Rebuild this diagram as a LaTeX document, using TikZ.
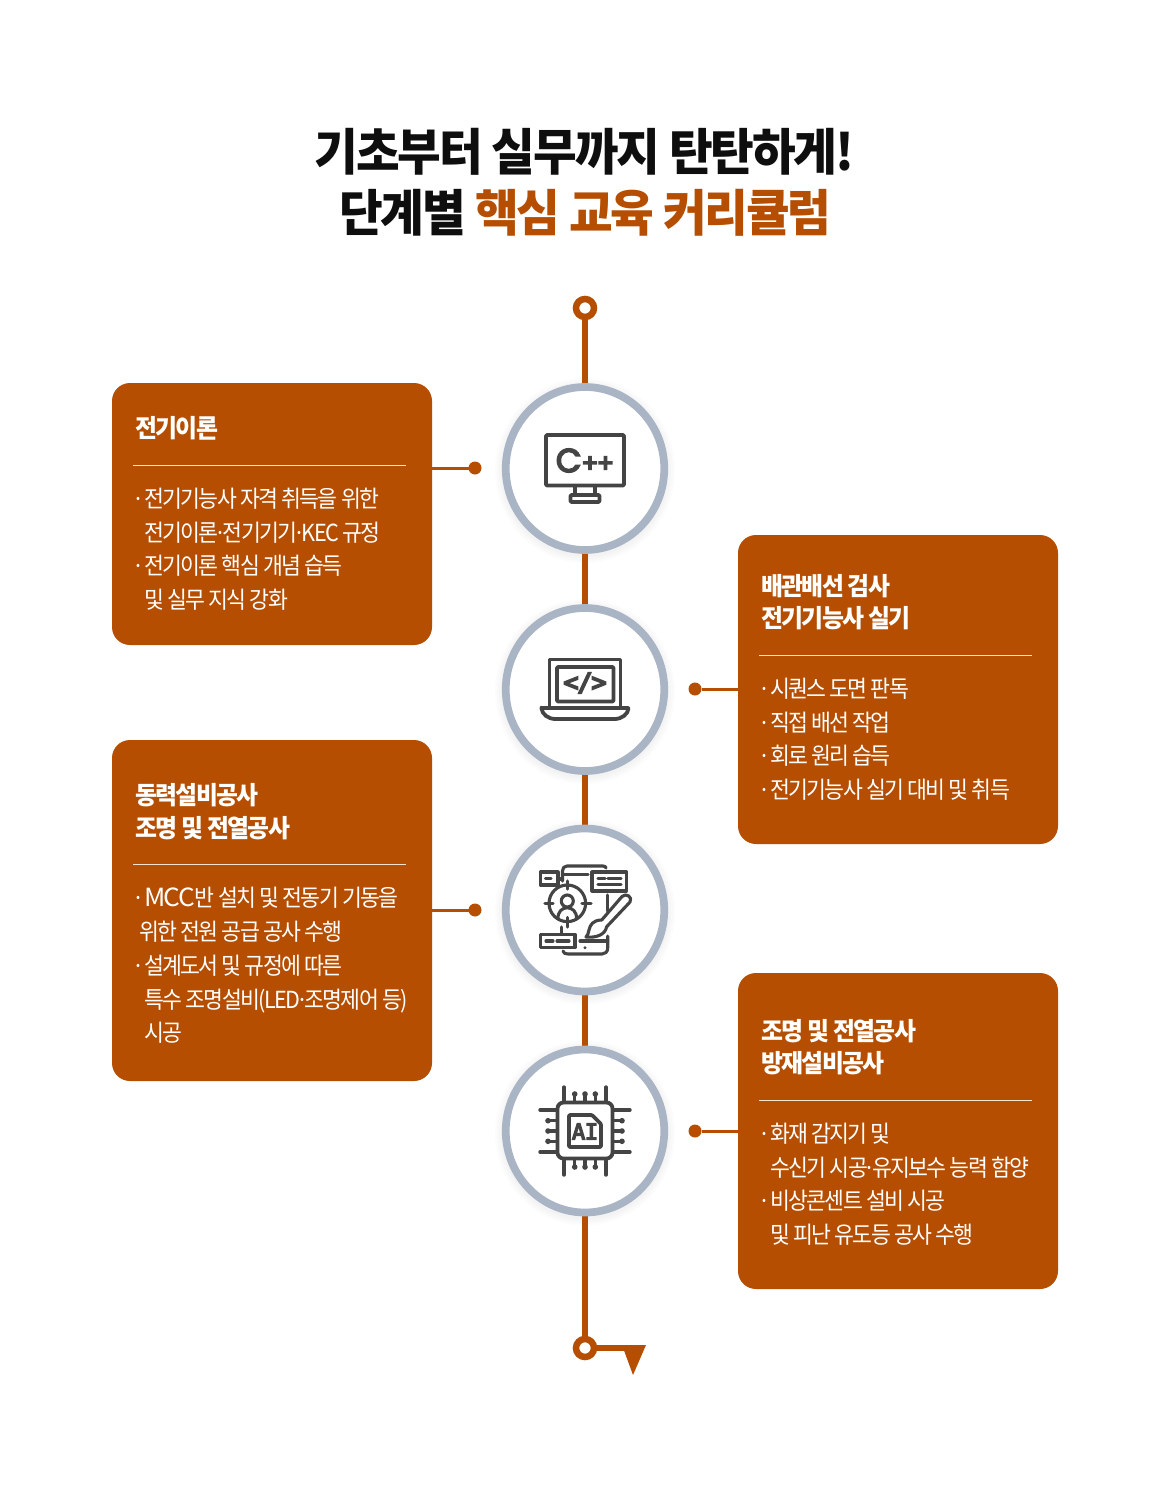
\documentclass[tikz,border=0pt]{standalone}
\usepackage{fontspec}
\usetikzlibrary{shapes.geometric}
\setmainfont{Noto Sans CJK KR}
\newfontfamily\poppinsf{Poppins}
\newfontfamily\monof{DejaVu Sans Mono}
\definecolor{rust}{HTML}{B54E00}
\definecolor{ringc}{HTML}{A9B4C4}
\definecolor{ink}{HTML}{444444}
\definecolor{titleink}{HTML}{0E0E0E}
\definecolor{rulec}{HTML}{FBE3D2}
\newcommand{\bodyfont}{\fontsize{23.5}{28}\selectfont\addfontfeature{FakeStretch=0.92,LetterSpace=-7}}
\newcommand{\headfont}{\fontsize{25}{30}\selectfont\bfseries\addfontfeature{FakeStretch=0.955,LetterSpace=-6.6}}
\newcommand{\titlefont}{\fontsize{50}{60}\selectfont\bfseries\addfontfeature{FakeStretch=0.95,LetterSpace=-4.2}}
\newcommand{\bul}{·\kern-3.5pt\ }
\newcommand{\md}{\kern-4pt·\kern-4pt}
\newcommand{\wide}[1]{{\fontsize{25}{28}\selectfont\addfontfeature{FakeStretch=1.05,LetterSpace=-6}#1}}
\tikzset{
 card/.style={fill=rust,draw=none,rounded corners=18pt,minimum width=320pt,inner sep=0pt,outer sep=0pt},
 bubble/.style={ellipse,fill=white,draw=ringc,line width=7.7pt,minimum width=158.5pt,minimum height=163pt,inner sep=0pt,outer sep=0pt},
 halo/.style={ellipse,fill=black,opacity=0.012,draw=none,inner sep=0pt},
 spine/.style={draw=rust,line width=6.5pt},
 ringend/.style={circle,fill=white,draw=rust,line width=6.5pt,minimum size=18pt,inner sep=0pt,outer sep=0pt},
 dotend/.style={circle,fill=rust,draw=none,minimum size=13pt,inner sep=0pt,outer sep=0pt},
 link/.style={draw=rust,line width=3pt},
 rulewhite/.style={draw=rulec,line width=1pt},
 bodyt/.style={anchor=base west,inner sep=0pt,text=white,font=\bodyfont},
 headt/.style={anchor=base west,inner sep=0pt,text=white,font=\headfont},
 titlet/.style={anchor=base,inner sep=0pt,text=titleink,font=\titlefont},
 ic/.style={draw=ink,line width=3.8pt,line cap=round,line join=round},
 icmid/.style={draw=ink,line width=3.4pt,line cap=round,line join=round},
 icthin/.style={draw=ink,line width=3.1pt,line cap=round,line join=round},
 glyph/.style={inner sep=0pt,text=ink,anchor=center},
}
\begin{document}
\begin{tikzpicture}[x=1pt,y=-1pt]
\useasboundingbox (0,0) rectangle (1170,1494);
\fill[white] (0,0) rectangle (1170,1494);
% title
\node[titlet] (t1) at (584.5,170) {기초부터 실무까지 탄탄하게!};
\node[titlet] (t2) at (585.5,231) {단계별 \textcolor{rust}{핵심 교육 커리큘럼}};
% ends of the spine
\node[ringend] (top) at (585,308) {};
\node[ringend] (bot) at (585,1348) {};
% halos
\foreach \y in {468.5,689.5,910,1131}{
  \foreach \r in {14,10,6,2}{\node[halo,minimum width=166+\r,minimum height=171+\r] at (585,\y+2) {};}
}
\coordinate (b1) at (585,468.5);
\coordinate (b2) at (585,689.5);
\coordinate (b3) at (585,910);
\coordinate (b4) at (585,1131);
\draw[spine] (top) -- (b1) -- (b2) -- (b3) -- (b4) -- (bot);
\node[bubble] (c1) at (b1) {};
\node[bubble] (c2) at (b2) {};
\node[bubble] (c3) at (b3) {};
\node[bubble] (c4) at (b4) {};
% flag at the bottom
\coordinate (flagtip) at (625,1348);
\draw[draw=rust,line width=6pt] (bot) -- (flagtip);
\fill[rust] (622,1345) -- (646,1345) -- (633,1375) -- cycle;
% cards
\node[card,minimum height=262pt] (k1) at (272,514) {};
\node[card,minimum height=309pt] (k2) at (898,689.5) {};
\node[card,minimum height=341pt] (k3) at (272,910.5) {};
\node[card,minimum height=316pt] (k4) at (898,1131) {};
% dots and links
\node[dotend] (d1) at (475,468) {};
\node[dotend] (d2) at (695,689) {};
\node[dotend] (d3) at (475,910) {};
\node[dotend] (d4) at (695,1131) {};
\draw[link] (k1.east |- d1) -- (d1);
\draw[link] (k2.west |- d2) -- (d2);
\draw[link] (k3.east |- d3) -- (d3);
\draw[link] (k4.west |- d4) -- (d4);
% rules
\draw[rulewhite] (133,465) -- (406,465);
\draw[rulewhite] (759,655) -- (1032,655);
\draw[rulewhite] (133,864) -- (406,864);
\draw[rulewhite] (759,1100) -- (1032,1100);
% card 1
\node[headt] (k1h) at (135,437) {전기이론};
\node[bodyt] (k1a) at (132,507.5) {\bul 전기기능사 자격 취득을 위한};
\node[bodyt] (k1b) at (144,541.5) {전기이론\md 전기기기\md KEC 규정};
\node[bodyt] (k1c) at (132,574.5) {\bul 전기이론 핵심 개념 습득};
\node[bodyt] (k1d) at (144,608.5) {및 실무 지식 강화};
% card 2
\node[headt] (k2h) at (761,595) {배관배선 검사};
\node[headt] (k2i) at (761,627) {전기기능사 실기};
\node[bodyt] (k2a) at (758,697.5) {\bul 시퀀스 도면 판독};
\node[bodyt] (k2b) at (758,731.5) {\bul 직접 배선 작업};
\node[bodyt] (k2c) at (758,764.5) {\bul 회로 원리 습득};
\node[bodyt] (k2d) at (758,798.5) {\bul 전기기능사 실기 대비 및 취득};
% card 3
\node[headt] (k3h) at (135,804) {동력설비공사};
\node[headt] (k3i) at (135,837) {조명 및 전열공사};
\node[bodyt] (k3a) at (132,906.5) {\bul \wide{MCC}반 설치 및 전동기 기동을};
\node[bodyt] (k3b) at (139,940.5) {위한 전원 공급 공사 수행};
\node[bodyt] (k3c) at (132,974.5) {\bul 설계도서 및 규정에 따른};
\node[bodyt] (k3d) at (144,1008.5) {특수 조명설비(LED\md 조명제어 등)};
\node[bodyt] (k3e) at (144,1041.5) {시공};
% card 4
\node[headt] (k4h) at (761,1040) {조명 및 전열공사};
\node[headt] (k4i) at (761,1072) {방재설비공사};
\node[bodyt] (k4a) at (758,1142.5) {\bul 화재 감지기 및};
\node[bodyt] (k4b) at (770,1176.5) {수신기 시공\md 유지보수 능력 함양};
\node[bodyt] (k4c) at (758,1209.5) {\bul 비상콘센트 설비 시공};
\node[bodyt] (k4d) at (770,1243.5) {및 피난 유도등 공사 수행};
% icon 1: monitor
\draw[ic,rounded corners=1pt] (546,435) rectangle (624,485.5);
\draw[icmid] (575,487) -- (575,494) (595,487) -- (595,494);
\draw[ic,rounded corners=1pt] (570.5,495) rectangle (599.5,502);
\node[glyph] (cpp) at (585,460.5) {\poppinsf\fontsize{33}{33}\selectfont\addfontfeature{FakeBold=5}C\fontsize{25}{25}\selectfont\addfontfeature{LetterSpace=-6,FakeBold=6}++};
% icon 2: laptop
\draw[ic] (549.5,707) -- (549.5,659.5) -- (620.5,659.5) -- (620.5,707);
\draw[ic,rounded corners=1pt] (557,667) rectangle (613.5,701.5);
\draw[ic,rounded corners=0.5pt] (541.5,708) -- (628.5,708) .. controls (628,714) and (622,719) .. (614,719) -- (556,719) .. controls (548,719) and (542,714) .. (541.5,708) -- cycle;
\node[glyph] (code) at (585,683) {\monof\fontsize{25}{25}\selectfont\addfontfeature{LetterSpace=-4,FakeBold=7}</>};
% icon 3: design
\draw[icthin] (540.5,872) rectangle (558,885);
\draw[icthin] (545.5,878.5) -- (551,878.5);
\draw[icthin] (558,879) -- (562.5,879);
\draw[icthin] (562.5,881) -- (562.5,871) .. controls (562.5,868) and (564,866) .. (567,866) -- (603,866) .. controls (605,866) and (606,867) .. (606,868);
\draw[icthin] (562.5,874.5) -- (588,874.5);
\draw[icthin,fill=white] (592,872) rectangle (626.5,891);
\draw[icthin] (598,878.5) -- (605,878.5) (608,878.5) -- (621,878.5) (598,884.5) -- (621,884.5);
\draw[icthin] (567.3,903.3) circle (18.3);
\draw[icthin] (567.3,881) -- (567.3,889) (567.3,917.5) -- (567.3,927) (545,903.3) -- (553,903.3) (582,903.3) -- (591,903.3);
\draw[icthin] (567.3,901) circle (6);
\draw[icthin] (558,919) .. controls (557,904) and (577.5,904) .. (576.5,919);
\draw[icthin] (561.5,927) -- (561.5,934);
\draw[icthin] (540.5,934.5) rectangle (575,947.5);
\draw[icthin] (546,941) -- (553,941) (557,941) -- (569,941);
\draw[icthin] (607.7,895) -- (607.7,911);
% brush
\draw[icthin] (601.7,920) -- (622,896.5) .. controls (626,892.5) and (633,897) .. (630,902) -- (606.7,926.7);
\draw[icthin] (601.7,920) .. controls (593,920) and (590,925) .. (589,930) .. controls (588.5,933) and (587.5,935.5) .. (586,937) .. controls (596,938) and (605,935) .. (606.7,926.7);
% device
\draw[icthin] (580,941) -- (607.7,941);
\draw[icthin] (607.7,936) -- (607.7,948) .. controls (607.7,952) and (605,954) .. (602,954) -- (568,954) .. controls (565,954) and (563.5,953) .. (563,951);
\fill[ink] (585,947.7) circle (1.7);
% icon 4: chip
\draw[ic,rounded corners=6pt] (557.5,1102.5) rectangle (612.5,1158.5);
\draw[ic,rounded corners=1pt] (569,1115) -- (592,1115) -- (601,1124) -- (601,1147) -- (569,1147) -- cycle;
\node[glyph] (ai) at (585,1131.5) {\monof\fontsize{22}{22}\selectfont\addfontfeature{LetterSpace=-2,FakeBold=6}AI};
\foreach \d in {-21,21}{
  \draw[icmid] (585+\d,1087) -- (585+\d,1102);
  \draw[icmid] (585+\d,1159) -- (585+\d,1175);
  \draw[icmid] (540,1131+\d) -- (556,1131+\d);
  \draw[icmid] (614,1131+\d) -- (630,1131+\d);
}
\foreach \d in {-10.3,0,10.3}{
  \draw[icmid] (585+\d,1094) -- (585+\d,1102);
  \draw[icmid] (585+\d,1159) -- (585+\d,1167);
  \draw[icmid] (548,1131+\d) -- (556,1131+\d);
  \draw[icmid] (614,1131+\d) -- (622,1131+\d);
  \fill[ink] (585+\d,1094) circle (2.8) (585+\d,1167) circle (2.8) (548,1131+\d) circle (2.8) (622,1131+\d) circle (2.8);
}
\end{tikzpicture}
\end{document}
